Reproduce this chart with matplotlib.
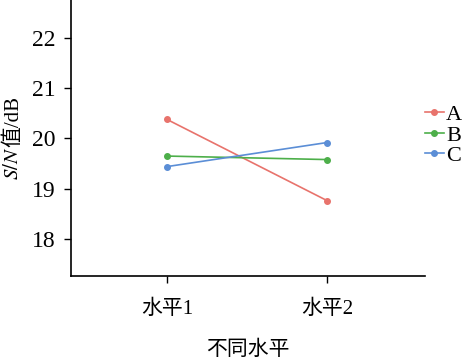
import matplotlib
matplotlib.use('Agg')
import matplotlib.pyplot as plt

# 数据
levels = ['水平1', '水平2']
factors = ['A', 'B', 'C']
a_vals = [20.38, 18.76]
b_vals = [19.65, 19.58]
c_vals = [19.44, 19.92]
colors = ['#E8736C', '#4DAF4A', '#5B8ED6']
y_ticks = [18, 19, 20, 21, 22]

plt.rcParams['font.family'] = ['Liberation Serif', 'Noto Sans CJK SC']
plt.rcParams['mathtext.fontset'] = 'stix'

fig = plt.figure(figsize=(4.63, 3.61), dpi=100)
ax = fig.add_axes([0.153, 0.2355, 0.918 - 0.153, 1.0 - 0.2355])

x = [1, 2]
for vals, lab, col in zip([a_vals, b_vals, c_vals], factors, colors):
    ax.plot(x, vals, color=col, lw=1.2, marker='o', ms=4, label=lab)

ax.set_xlim(0.4, 2.61)
ax.set_ylim(17.26, 22.76)
ax.set_xticks(x)
ax.set_xticklabels(levels)
ax.set_yticks(y_ticks)
ax.tick_params(axis='both', labelsize=15, direction='out', length=5, width=1)
ax.tick_params(axis='x', pad=12)
ax.tick_params(axis='y', pad=6, labelsize=17)

for s in ['top', 'right']:
    ax.spines[s].set_visible(False)
for s in ['left', 'bottom']:
    ax.spines[s].set_linewidth(1.2)

ax.set_xlabel('不同水平', fontsize=15, labelpad=16)

# y轴标签: S/N 斜体 + 值/dB
t1 = fig.text(0.03, 0.50, '$S/N$', rotation=90, ha='center', va='bottom', fontsize=15)
ax.annotate('值/dB', xy=(0.5, 1), xycoords=t1, rotation=90, ha='center', va='bottom',
            fontsize=15, annotation_clip=False)

ax.legend(loc='center left', bbox_to_anchor=(1.0, 0.51), frameon=False,
          fontsize=16, handlelength=0.85, handletextpad=0.1, labelspacing=0.0,
          borderaxespad=0, borderpad=0)

fig.savefig('out.png', dpi=100)
